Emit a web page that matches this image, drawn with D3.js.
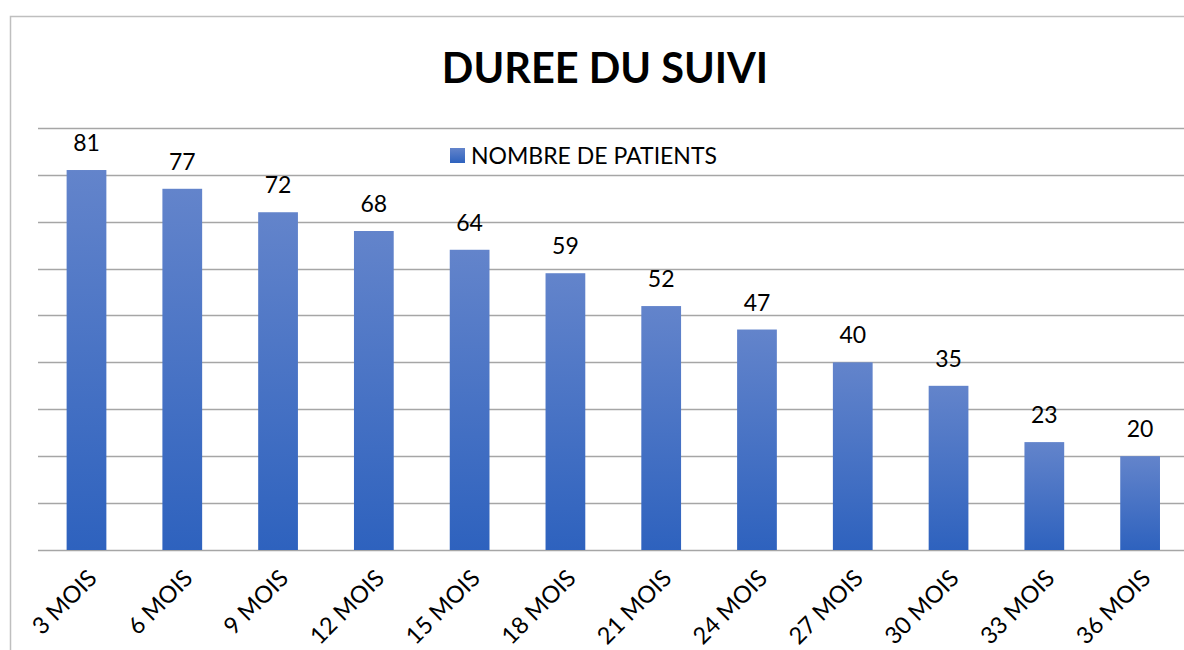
<!DOCTYPE html>
<html>
<head>
<meta charset="utf-8">
<script src="https://cdn.jsdelivr.net/npm/d3@7"></script>
<style>
  body { margin: 0; background: #fff; }
  svg { font-family: Lato, "Open Sans", sans-serif; }
</style>
</head>
<body>
<svg id="canvas" width="1184" height="650"></svg>
<script>
let categories = ['3 MOIS', '6 MOIS', '9 MOIS', '12 MOIS', '15 MOIS', '18 MOIS',
                  '21 MOIS', '24 MOIS', '27 MOIS', '30 MOIS', '33 MOIS', '36 MOIS']
let patients = [81, 77, 72, 68, 64, 59, 52, 47, 40, 35, 23, 20]
let yTicks = [0, 10, 20, 30, 40, 50, 60, 70, 80, 90]
let seriesName = 'NOMBRE DE PATIENTS'
let title = 'DUREE DU SUIVI'

let canvas = d3.select('#canvas')

// chart frame (runs off the right and bottom of the picture)
canvas.append('rect')
    .attr('x', 10.5).attr('y', 16.5)
    .attr('width', 1200).attr('height', 700)
    .attr('fill', 'none')
    .attr('stroke', '#bfbfbf')
    .attr('stroke-width', 1.5)

let defs = canvas.append('defs')
let grad = defs.append('linearGradient')
    .attr('id', 'barGrad')
    .attr('x1', 0).attr('y1', 0).attr('x2', 0).attr('y2', 1)
grad.append('stop').attr('offset', '0%').attr('stop-color', '#6384cb')
grad.append('stop').attr('offset', '100%').attr('stop-color', '#2e62be')

let xScale = d3.scaleBand()
    .domain(categories)
    .range([38.6, 1188])
    .paddingInner(0.585)
    .paddingOuter(0.2925)

let yScale = d3.scaleLinear()
    .domain([0, 90])
    .range([550, 127.8])

// gridlines
canvas.append('g')
    .selectAll('line')
    .data(yTicks)
    .enter()
    .append('line')
    .attr('x1', 38).attr('x2', 1184)
    .attr('y1', (d) => Math.round(yScale(d)) + 0.5)
    .attr('y2', (d) => Math.round(yScale(d)) + 0.5)
    .attr('stroke', '#a6a6a6')
    .attr('stroke-width', 1.5)

// bars
canvas.append('g')
    .selectAll('rect')
    .data(patients)
    .enter()
    .append('rect')
    .attr('x', (d, i) => xScale(categories[i]))
    .attr('y', (d) => yScale(d))
    .attr('width', xScale.bandwidth())
    .attr('height', (d) => yScale(0) - yScale(d))
    .attr('fill', 'url(#barGrad)')

// value labels
canvas.append('g')
    .selectAll('text')
    .data(patients)
    .enter()
    .append('text')
    .attr('x', (d, i) => xScale(categories[i]) + xScale.bandwidth() / 2)
    .attr('y', (d) => yScale(d) - 19)
    .attr('text-anchor', 'middle')
    .attr('font-size', 23)
    .attr('fill', '#000')
    .text((d) => d)

// x axis labels, rotated
canvas.append('g')
    .selectAll('text')
    .data(categories)
    .enter()
    .append('text')
    .attr('transform', (d) => {
        let cx = xScale(d) + xScale.bandwidth() / 2 + 6
        return 'translate(' + cx + ',574) rotate(-45)'
    })
    .attr('text-anchor', 'end')
    .attr('dy', '0.35em')
    .attr('font-size', 23.5)
    .attr('fill', '#000')
    .text((d) => d)

// title
canvas.append('text')
    .attr('x', 605)
    .attr('y', 83)
    .attr('text-anchor', 'middle')
    .attr('font-size', 41.5)
    .attr('font-weight', 'bold')
    .attr('fill', '#000')
    .text(title)

// legend
let legend = canvas.append('g')
legend.append('rect')
    .attr('x', 450).attr('y', 148)
    .attr('width', 15).attr('height', 15)
    .attr('fill', 'url(#barGrad)')
legend.append('text')
    .attr('x', 471).attr('y', 164)
    .attr('font-size', 23)
    .attr('fill', '#000')
    .text(seriesName)
</script>
</body>
</html>
